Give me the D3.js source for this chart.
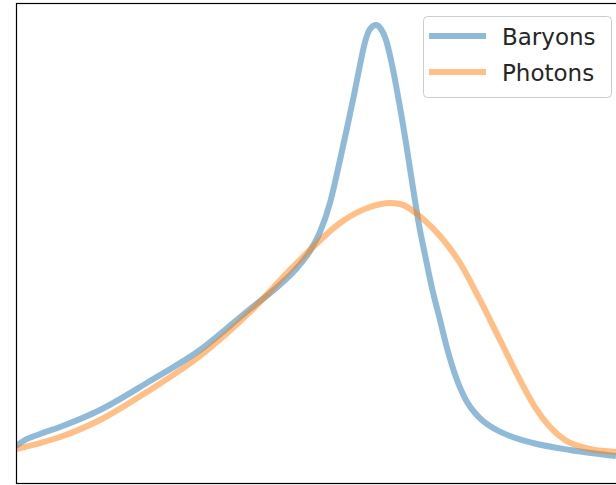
<!DOCTYPE html>
<html>
<head>
<meta charset="utf-8">
<script src="https://cdn.jsdelivr.net/npm/d3@7"></script>
<style>
  html, body { margin: 0; padding: 0; background: #fff; }
  svg { display: block; }
</style>
</head>
<body>
<svg id="chart" width="616" height="485"></svg>
<script>
// Series names
const seriesNames = ["Baryons", "Photons"];
const seriesColors = ["#1f77b4", "#ff7f0e"];

// Baryons curve
const baryonX = [0, 0.15, 0.4, 0.733, 1.4, 2.233, 3.067, 3.9, 4.317, 4.683, 4.9, 5.067, 5.233, 5.4, 5.517, 5.633, 5.733, 5.817, 5.9, 6.0, 6.083, 6.167, 6.25, 6.333, 6.417, 6.5, 6.617, 6.717, 6.817, 6.933, 7.067, 7.183, 7.35, 7.517, 7.65, 7.783, 7.983, 8.233, 8.617, 9.233, 10];
const baryonY = [0.0771, 0.0896, 0.1021, 0.1167, 0.1521, 0.2125, 0.2771, 0.3625, 0.4042, 0.4479, 0.4833, 0.5229, 0.5833, 0.6729, 0.7396, 0.8083, 0.8708, 0.9188, 0.9458, 0.9542, 0.9458, 0.9229, 0.8813, 0.8292, 0.7708, 0.7083, 0.6146, 0.5375, 0.475, 0.4063, 0.3396, 0.2813, 0.2146, 0.1688, 0.1458, 0.1292, 0.1125, 0.0979, 0.0833, 0.0688, 0.0563];

// Photons curve
const photonX = [0, 0.4, 0.733, 1.4, 2.233, 3.067, 3.9, 4.567, 4.9, 5.4, 5.9, 6.233, 6.4, 6.783, 7.067, 7.4, 7.733, 8.067, 8.4, 8.65, 8.9, 9.15, 9.567, 10];
const photonY = [0.0708, 0.0833, 0.0958, 0.1313, 0.1938, 0.2646, 0.3563, 0.4438, 0.4854, 0.5417, 0.575, 0.5833, 0.5813, 0.55, 0.5146, 0.4583, 0.3813, 0.2979, 0.2146, 0.1583, 0.1167, 0.0896, 0.0708, 0.0646];

const svg = d3.select("#chart");
const mLeft = 16, mTop = 3, mBottom = 483, mRight = 616;

const x = d3.scaleLinear().domain([0, 10]).range([mLeft, mRight]);
const y = d3.scaleLinear().domain([0, 1]).range([mBottom, mTop]);

svg.append("defs").append("clipPath").attr("id", "clip")
  .append("rect").attr("x", mLeft).attr("y", mTop).attr("width", mRight - mLeft + 10).attr("height", mBottom - mTop);

const line = d3.line().x(d => x(d[0])).y(d => y(d[1])).curve(d3.curveMonotoneX);

const series = [
  baryonX.map((v, i) => [v, baryonY[i]]),
  photonX.map((v, i) => [v, photonY[i]])
];

const g = svg.append("g").attr("clip-path", "url(#clip)");
series.forEach((s, i) => {
  g.append("path")
    .datum(s)
    .attr("d", line)
    .attr("fill", "none")
    .attr("stroke", seriesColors[i])
    .attr("stroke-opacity", 0.5)
    .attr("stroke-width", 6)
    .attr("stroke-linejoin", "round")
    .attr("stroke-linecap", "butt");
});

// Axes frame
svg.append("rect")
  .attr("x", mLeft + 0.5).attr("y", mTop + 0.5)
  .attr("width", mRight - mLeft + 20).attr("height", mBottom - mTop)
  .attr("fill", "none").attr("stroke", "#000").attr("stroke-width", 1.2);

// Legend
const lg = svg.append("g");
lg.append("rect")
  .attr("x", 423.5).attr("y", 16.5).attr("width", 188).attr("height", 81)
  .attr("rx", 4).attr("ry", 4)
  .attr("fill", "#fff").attr("fill-opacity", 0.8)
  .attr("stroke", "#cccccc").attr("stroke-width", 1);

const rowY = [36, 72];
seriesNames.forEach((name, i) => {
  lg.append("line")
    .attr("x1", 429).attr("x2", 486)
    .attr("y1", rowY[i]).attr("y2", rowY[i])
    .attr("stroke", seriesColors[i]).attr("stroke-opacity", 0.5)
    .attr("stroke-width", 6);
  lg.append("text")
    .attr("x", 502).attr("y", rowY[i] + 9)
    .attr("font-family", "DejaVu Sans")
    .attr("font-size", 23)
    .attr("fill", "#262626")
    .text(name);
});
</script>
</body>
</html>
